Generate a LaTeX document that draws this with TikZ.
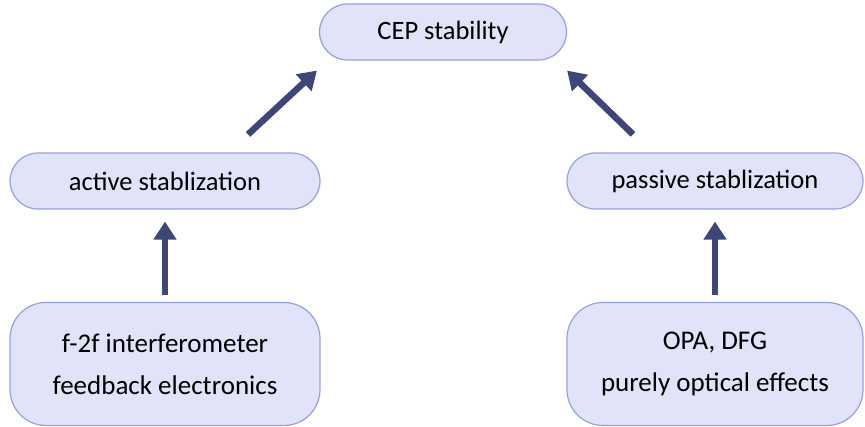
\documentclass[tikz,border=0pt]{standalone}
\usepackage{fontspec}
\setmainfont{Carlito}
\usetikzlibrary{arrows.meta}
\definecolor{boxfill}{HTML}{E1E3F8}
\definecolor{boxline}{HTML}{95A0E2}
\definecolor{arrowcol}{HTML}{3E4577}
\begin{document}
\begin{tikzpicture}
[x=1pt,y=-1pt,
 pill/.style={rectangle,draw=boxline,fill=boxfill,line width=1.2pt,inner sep=0pt,
   minimum height=56pt,rounded corners=28pt,font=\fontsize{26.5}{32}\selectfont},
 block/.style={rectangle,draw=boxline,fill=boxfill,line width=1.2pt,inner sep=0pt,
   minimum height=123pt,rounded corners=36pt,align=center,font=\fontsize{27}{42}\selectfont},
 uparrow/.style={draw=arrowcol,line width=6.5pt,-{Triangle[length=18pt,width=22pt]}}]
\useasboundingbox (0,0) rectangle (865,427);
\node[pill,minimum width=247pt] (cep)  at (443,32)  {CEP stability};
\node[pill,minimum width=310pt] (act)  at (165,181) {active stablization};
\node[pill,minimum width=296pt] (pass) at (715,181) {passive stablization};
\node[block,minimum width=310pt] (fbk) at (165,364) {f-2f interferometer\\feedback electronics};
\node[block,minimum width=296pt] (opt) at (715,364) {OPA, DFG\\purely optical effects};
\coordinate (actst)  at ([xshift=83pt,yshift=18pt]act.north);
\coordinate (cepl)   at ([xshift=-2pt,yshift=-10pt]cep.south west);
\coordinate (passst) at ([xshift=-82pt,yshift=18pt]pass.north);
\coordinate (cepr)   at ([xshift=0pt,yshift=-10pt]cep.south east);
%
\draw[uparrow] (actst) -- (cepl);
\draw[uparrow] (passst) -- (cepr);
\draw[uparrow,shorten <=7pt,shorten >=12pt] (fbk.north) -- (act.south);
\draw[uparrow,shorten <=7pt,shorten >=12pt] (opt.north) -- (pass.south);
\end{tikzpicture}
\end{document}
